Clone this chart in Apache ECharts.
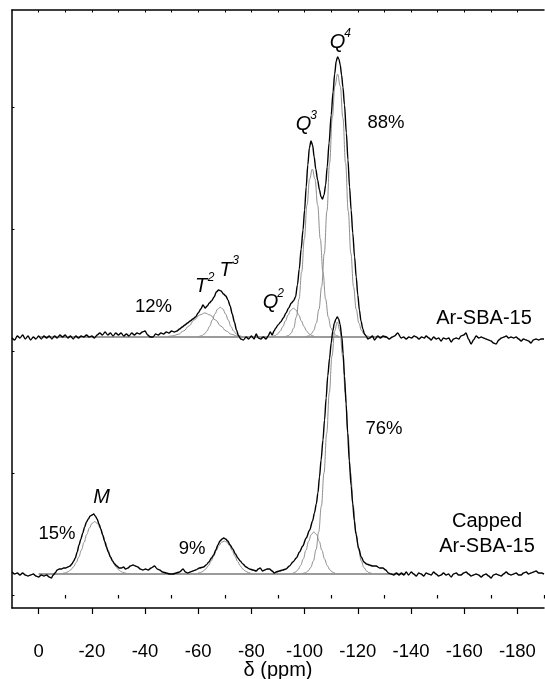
<!DOCTYPE html>
<html>
<head>
<meta charset="utf-8">
<title>29Si MAS NMR</title>
<script src="https://cdn.jsdelivr.net/npm/echarts@6/dist/echarts.min.js"></script>
<style>
  html, body { margin: 0; padding: 0; background: #fff; }
  #chart { width: 545px; height: 679px; }
</style>
</head>
<body>
<div id="chart"></div>
<script>
// Chemical shift axis (ppm)
const majorTicks = [0, -20, -40, -60, -80, -100, -120, -140, -160, -180];
const minorTicks = [-10, -30, -50, -70, -90, -110, -130, -150, -170, -190];
const topTicks = [0, -10, -20, -30, -40, -50, -60, -70, -80, -90, -100, -110, -120, -130, -140, -150, -160, -170, -180];
const intensityTicks = [0, 122, 244, 366, 488];

// Vertical offsets of the two stacked spectra
const topOffset = 258;
const bottomOffset = 21;

// Fitted baseline extents [start, end] in ppm
const topBaseSpan = [0, -131];
const bottomBaseSpan = [0, -138];

// Ar-SBA-15: measured spectrum [ppm, intensity]
const topSpectrum = [
  [10,-1],[9,-3],[8,1],[7,-1],[6,2],[5,-2],[4,1],[3,-3],[2,0],[1,-2],[0,1],[-1,-2],[-2,1],[-3,-1],[-4,1],[-5,-2],
  [-6,1],[-7,-1],[-8,2],[-9,0],[-10,2],[-11,-1],[-12,1],[-13,-2],[-14,1],[-15,-1],[-16,1],[-17,0],[-18,2],[-19,0],
  [-20,1],[-21,-1],[-22,2],[-23,4],[-24,2],[-25,5],[-26,2],[-27,4],[-28,1],[-29,4],[-30,2],[-31,4],[-32,1],[-33,3],
  [-34,1],[-35,4],[-36,2],[-37,4],[-38,3],[-39,5],[-40,6],[-41,2],[-42,0],[-43,0],[-44,3],[-45,2],[-46,4],[-47,3],
  [-48,5],[-49,4],[-50,6],[-51,5],[-52,6],[-53,8],[-54,10],[-55,12],[-56,14],[-57,16],[-58,18],[-59,20],[-60,24],
  [-61,28],[-61.8,32],[-62.6,29],[-63.4,31],[-64.2,34],[-65,36],[-66,40],[-66.8,45],[-67.7,47],[-68.6,46],[-69.5,43],
  [-70.4,41],[-71.2,37],[-72,31],[-72.8,23],[-73.6,15],[-74.4,7],[-75.2,1],[-76,-2],[-77,-3],[-78,0],[-79,-2],[-80,1],
  [-81,-2],[-81.8,3],[-82.6,-1],[-83.5,-2],[-84.5,0],[-85.5,-2],[-86.3,1],[-87.1,5],[-87.8,2],[-88.5,6],
  [-89.2,9],[-90,12],[-91,15],[-92,19],[-93,24],[-94,29],[-95,34],[-95.8,36],[-96.6,40],[-97.3,52],[-98,68],[-98.7,88],
  [-99.4,107],[-100,127],[-100.6,150],[-101.2,172],[-101.8,189],[-102.4,196],[-103,192],[-103.6,180],[-104.2,168],
  [-104.9,157],[-105.6,147],[-106.2,140],[-106.7,138],[-107.3,142],[-107.9,152],[-108.5,170],[-109.2,194],[-110,222],
  [-110.7,245],[-111.3,263],[-111.9,276],[-112.4,280],[-112.9,278],[-113.4,272],[-113.9,262],[-114.4,250],[-115,232],
  [-115.7,204],[-116.3,177],[-116.9,150],[-117.5,127],[-118.1,104],[-118.8,80],[-119.4,60],[-120,42],[-120.6,27],
  [-121.2,16],[-121.9,8],[-122.5,3],[-123.1,1],[-123.8,-2],
  [-124.5,-1],[-125.5,1],[-126.3,-3],[-127.5,1],[-128.5,-1],[-129.5,1],[-130.7,0],[-131.8,-2],[-133,0],[-133.8,1],
  [-135,4],[-136.3,-1],[-137.2,0],[-138.2,-2],[-139.2,0],[-140.2,-1],[-141.2,1],[-142,0],[-143,-2],[-144,0],[-145,-1],
  [-145.7,1],[-146.7,-1],[-147.6,-3],[-148.5,0],[-149.5,-2],[-150.4,-1],[-151.3,-4],[-152.2,-1],[-153.2,-2],[-154.2,-1],
  [-155.1,-5],[-156,-2],[-157,-1],[-158,-2],[-158.8,1],[-159.8,2],[-160.7,4],[-161.6,-2],[-162.6,-7],[-163.5,-3],
  [-164.5,1],[-165.5,-1],[-166.4,0],[-167.3,-1],[-168.2,-2],[-169.2,-3],[-170.1,-4],[-171,-6],[-172,-7],[-173,-3],
  [-174,-1],[-175,0],[-175.8,1],[-176.7,-1],[-177.6,0],[-178.6,-1],[-179.5,0],[-180.5,-2],[-181.4,-4],[-182.3,-2],
  [-183.3,-3],[-184.2,-4],[-185.1,-6],[-186,-3],[-187,-2],[-188,-3],[-188.9,-2],[-190,-2]
];

// Ar-SBA-15: deconvoluted components
const topT2Fit = [[-48.5,0.4],[-50.5,1.1],[-52.5,2.7],[-54.5,6],[-56.5,11],[-58.5,17],[-60.5,22],[-62.5,24],
  [-64.5,22],[-66.5,17],[-68.5,11],[-70.5,6],[-72.5,2.7],[-74.5,1.1],[-76.5,0.4]];
const topT3Fit = [[-60.3,0.5],[-61.3,1.3],[-62.3,3],[-63.3,6],[-64.3,10.7],[-65.3,16.9],[-66.3,23],[-67.3,27.9],
  [-68.3,29.7],[-69.3,27.9],[-70.3,23],[-71.3,16.9],[-72.3,10.7],[-73.3,6],[-74.3,3],[-75.3,1.3],[-76.3,0.5]];
const topQ2Fit = [[-87.8,0.5],[-88.8,1.3],[-89.8,2.9],[-90.8,5.8],[-91.8,10.3],[-92.8,16],[-93.8,22],[-94.8,27],
  [-95.8,28.7],[-96.8,27],[-97.8,22],[-98.8,16],[-99.8,10.3],[-100.8,5.8],[-101.8,2.9],[-102.8,1.3],[-103.8,0.5]];
const topQ3Fit = [[-92.9,0.5],[-93.9,1.4],[-94.9,3.7],[-95.9,9],[-96.9,20],[-97.9,38],[-98.9,65],[-99.9,98],
  [-100.9,132],[-101.9,158],[-102.9,168],[-103.9,158],[-104.9,132],[-105.9,98],[-106.9,65],[-107.9,38],[-108.9,20],
  [-109.9,9],[-110.9,3.7],[-111.9,1.4],[-112.9,0.5]];
const topQ4Fit = [[-100.4,0.3],[-101.4,1],[-102.4,2.7],[-103.4,6.4],[-104.4,13.9],[-105.4,27.7],[-106.4,50.3],
  [-107.4,83.5],[-108.4,126],[-109.4,174],[-110.4,219],[-111.4,251],[-112.4,263],[-113.4,251],[-114.4,219],
  [-115.4,174],[-116.4,126],[-117.4,83.5],[-118.4,50.3],[-119.4,27.7],[-120.4,13.9],[-121.4,6.4],[-122.4,2.7],
  [-123.4,1],[-124.4,0.3]];

// Capped Ar-SBA-15: measured spectrum [ppm, intensity]
const bottomSpectrum = [
  [10,2],[9,0],[8,1],[7,-1],[6,1],[5,-1],[4,-2],[3,-1],[2,0],[1,-2],[0,-3],[-1,-1],[-2,-2],[-3,-1],[-4,-3],[-4.8,-4],
  [-5.5,-1],[-6.2,1],[-7,4],[-7.8,5],[-8.6,5],[-9.4,6],[-10.2,6],[-11,7],[-11.8,8],[-12.5,10],[-13.2,13],[-13.8,16],
  [-14.5,22],[-15.2,29],[-15.9,35],[-16.6,41],[-17.3,47],[-18,52],[-18.7,55],[-19.4,58],[-20.1,59],[-20.7,60],
  [-21.3,58],[-22,55],[-22.7,50],[-23.4,45],[-24.1,39],[-24.8,33],[-25.5,27],[-26.2,22],[-27,17],[-27.8,13],[-28.6,10],
  [-29.4,8],[-30.3,6],[-31.2,6],[-31.9,7],[-32.7,5],[-33.6,6],[-34.5,8],[-35.5,9],[-36.4,8],[-37.3,7],[-38.2,5],
  [-39.2,4],[-40.2,5],[-41.2,4],[-42.3,6],[-43.6,8],[-44.6,5],[-45.5,4],[-46.6,2],[-48,1],[-49.3,0],[-50.5,0],
  [-51.7,1],[-53,2],[-54.3,5],[-55.2,2],[-56.1,1],[-57,2],[-58,3],[-59,4],[-60.5,6],[-62,7],[-63,9],[-64,12],[-65,16],
  [-65.8,19],[-66.6,24],[-67.4,29],[-68.2,33],[-69,35],[-69.6,36],[-70.3,35],[-71.1,33],[-72,29],[-73,25],[-74,20],
  [-74.9,16],[-75.8,13],[-76.8,10],[-78,7],[-79.3,5],[-80.6,4],[-81.8,3],[-82.6,5],[-83.3,6],[-84.2,3],[-85,4],
  [-85.9,5],[-86.8,5],[-87.8,3],[-88.6,1],[-89.3,2],[-90.5,3],[-91.8,4],[-93,5],[-94.3,8],[-95.6,12],[-96.9,16],
  [-98.1,22],[-99.3,28],[-100.6,36],[-101.9,44],[-103,53],[-103.7,61],[-104.4,70],[-105,81],[-105.6,97],[-106.2,114],
  [-106.9,134],[-107.5,154],[-108.1,176],[-108.7,198],[-109.4,216],[-110,231],[-110.6,243],[-111.2,251],[-111.8,255],
  [-112.3,257],[-112.8,255],[-113.3,250],[-114,237],[-114.5,220],[-115,198],[-115.6,170],[-116.2,141],[-116.8,113],
  [-117.5,88],[-118.1,70],[-118.7,53],[-119.3,40],[-120.3,26],[-121.3,17],[-122.3,12],[-123.3,10],[-124.4,9],
  [-125.5,8],[-126.9,8],[-128.2,6],[-129.4,6],[-130.5,4],[-131.5,1],[-132.5,0],[-133.5,-1],
  [-134.5,1],[-135.5,-1],[-136.4,1],[-137.3,-1],[-138.2,2],[-139.1,-1],[-140.1,2],[-141,0],[-142,-2],[-142.9,1],
  [-143.8,0],[-144.8,-2],[-145.7,1],[-146.6,0],[-147.6,-1],[-148.5,2],[-149.4,0],[-150.4,-2],[-151.3,-1],[-152.2,1],
  [-153.2,-1],[-154.1,0],[-155.1,-3],[-156,0],[-157,1],[-157.9,-1],[-158.8,-1],[-159.8,1],[-160.7,2],[-161.6,0],
  [-162.6,-2],[-163.5,-1],[-164.5,0],[-165.4,-1],[-166.4,-3],[-167.3,-1],[-168.2,0],[-169.2,-2],[-170.1,-4],[-171,-1],
  [-172,0],[-172.9,-1],[-173.9,-2],[-174.8,0],[-175.8,2],[-176.7,0],[-177.6,-1],[-178.6,0],[-179.5,1],[-180.5,-1],
  [-181.4,-1],[-182.3,1],[-183.3,2],[-184.2,0],[-185.1,1],[-186.1,2],[-187,3],[-188,1],[-188.9,1],[-190,0]
];

// Capped Ar-SBA-15: deconvoluted components
const botMFit = [[-9.1,0.6],[-10.1,1.2],[-11.1,2.3],[-12.1,4.2],[-13.1,7.1],[-14.1,11.3],[-15.1,17],[-16.1,24],
  [-17.1,31.7],[-18.1,39.5],[-19.1,46.1],[-20.1,50.7],[-21.1,52.3],[-22.1,50.7],[-23.1,46.1],[-24.1,39.5],[-25.1,31.7],
  [-26.1,24],[-27.1,17],[-28.1,11.3],[-29.1,7.1],[-30.1,4.2],[-31.1,2.3],[-32.1,1.2],[-33.1,0.6]];
const botTFit = [[-59.8,0.7],[-60.8,1.4],[-61.8,2.8],[-62.8,5],[-63.8,8.2],[-64.8,12.6],[-65.8,17.8],[-66.8,23.3],
  [-67.8,28.3],[-68.8,31.8],[-69.8,33],[-70.8,31.8],[-71.8,28.3],[-72.8,23.3],[-73.8,17.8],[-74.8,12.6],[-75.8,8.2],
  [-76.8,5],[-77.8,2.8],[-78.8,1.4],[-79.8,0.7]];
const botQ3Fit = [[-95.5,0.7],[-96.5,1.8],[-97.5,4.2],[-98.5,8.5],[-99.5,15.1],[-100.5,23.7],[-101.5,32.6],
  [-102.5,39.4],[-103.5,42],[-104.5,39.4],[-105.5,32.6],[-106.5,23.7],[-107.5,15.1],[-108.5,8.5],[-109.5,4.2],
  [-110.5,1.8],[-111.5,0.7]];
const botQ4Fit = [[-99.3,0.5],[-100.3,1.3],[-101.3,3],[-102.3,6.5],[-103.3,13.1],[-104.3,24.4],[-105.3,42.2],
  [-106.3,67.7],[-107.3,101.3],[-108.3,140.6],[-109.3,181.5],[-110.3,218],[-111.3,243],[-112.3,252],[-113.3,243],
  [-114.3,218],[-115.3,181.5],[-116.3,140.6],[-117.3,101.3],[-118.3,67.7],[-119.3,42.2],[-120.3,24.4],[-121.3,13.1],
  [-122.3,6.5],[-123.3,3],[-124.3,1.3],[-125.3,0.5]];

const FONT = '"Liberation Sans", Arial, Helvetica, sans-serif';

function lift(points, offset) {
  return points.map(p => [p[0], p[1] + offset]);
}

function spectrumSeries(points, offset) {
  return {
    type: 'line', data: lift(points, offset), showSymbol: false, symbol: 'none',
    smooth: 0.3, smoothMonotone: 'x', silent: true, z: 5,
    lineStyle: { color: '#000', width: 1.4 }
  };
}

function fitSeries(points, offset) {
  return {
    type: 'line', data: lift(points, offset), showSymbol: false, symbol: 'none',
    smooth: 0.4, smoothMonotone: 'x', silent: true, z: 3,
    lineStyle: { color: '#8e8e8e', width: 1 }
  };
}

function baselineSeries(span, offset) {
  return {
    type: 'line', data: span.map(x => [x, offset]), showSymbol: false, symbol: 'none',
    silent: true, z: 2, lineStyle: { color: '#7a7a7a', width: 1.4 }
  };
}

// Peak labels: italic letter with a superscript index
function peakLabel(letter, index, x, y) {
  const items = [{
    type: 'text', x: x, y: y, silent: true,
    style: { text: letter, font: 'italic 20px ' + FONT, fill: '#000', align: 'center', verticalAlign: 'middle' }
  }];
  if (index) {
    items.push({
      type: 'text', x: x + 10, y: y - 9, silent: true,
      style: { text: index, font: 'italic 12px ' + FONT, fill: '#000', align: 'center', verticalAlign: 'middle' }
    });
  }
  return items;
}

function plainLabel(text, x, y, size) {
  return {
    type: 'text', x: x, y: y, silent: true,
    style: { text: text, font: size + 'px ' + FONT, fill: '#000', align: 'center', verticalAlign: 'middle' }
  };
}

const chart = echarts.init(document.getElementById('chart'), null, { renderer: 'canvas' });

const axisLineStyle = { color: '#000', width: 1.5 };

chart.setOption({
  animation: false,
  backgroundColor: '#fff',
  grid: { left: 12, right: 1, top: 10, bottom: 71, containLabel: false, outerBoundsMode: 'none' },
  xAxis: [
    {
      type: 'value', min: -190, max: 10, inverse: true, position: 'bottom', offset: 0,
      axisLine: { show: true, onZero: false, lineStyle: axisLineStyle },
      axisTick: { show: true, inside: false, length: 6, customValues: majorTicks, lineStyle: { color: '#000', width: 1.2 } },
      axisLabel: { show: true, customValues: majorTicks, margin: 34, color: '#000', fontSize: 18.5, fontFamily: FONT },
      splitLine: { show: false },
      name: 'δ (ppm)', nameLocation: 'middle', nameGap: 62, nameMoveOverlap: false,
      nameTextStyle: { color: '#000', fontSize: 20, fontFamily: FONT, verticalAlign: 'middle' }
    },
    {
      type: 'value', min: -190, max: 10, inverse: true, position: 'bottom', offset: 0,
      axisLine: { show: false },
      axisTick: { show: true, inside: false, length: 3.5, customValues: minorTicks, lineStyle: { color: '#000', width: 1.2 } },
      axisLabel: { show: false },
      splitLine: { show: false }
    },
    {
      type: 'value', min: -190, max: 10, inverse: true, position: 'top', offset: 0,
      axisLine: { show: true, onZero: false, lineStyle: axisLineStyle },
      axisTick: { show: true, inside: true, length: 2.5, customValues: topTicks, lineStyle: { color: '#000', width: 1 } },
      axisLabel: { show: false },
      splitLine: { show: false }
    }
  ],
  yAxis: [
    {
      type: 'value', min: -13, max: 585, position: 'left',
      axisLine: { show: true, onZero: false, lineStyle: axisLineStyle },
      axisTick: { show: true, inside: true, length: 2.5, customValues: intensityTicks, lineStyle: { color: '#000', width: 1 } },
      axisLabel: { show: false },
      splitLine: { show: false }
    }
  ],
  series: [
    baselineSeries(topBaseSpan, topOffset),
    baselineSeries(bottomBaseSpan, bottomOffset),
    fitSeries(topT2Fit, topOffset),
    fitSeries(topT3Fit, topOffset),
    fitSeries(topQ2Fit, topOffset),
    fitSeries(topQ3Fit, topOffset),
    fitSeries(topQ4Fit, topOffset),
    fitSeries(botMFit, bottomOffset),
    fitSeries(botTFit, bottomOffset),
    fitSeries(botQ3Fit, bottomOffset),
    fitSeries(botQ4Fit, bottomOffset),
    spectrumSeries(topSpectrum, topOffset),
    spectrumSeries(bottomSpectrum, bottomOffset)
  ],
  graphic: [].concat(
    peakLabel('Q', '4', 337.5, 42.5),
    peakLabel('Q', '3', 303.5, 124.5),
    peakLabel('Q', '2', 270.5, 302.5),
    peakLabel('T', '2', 201, 286.5),
    peakLabel('T', '3', 225.5, 270),
    peakLabel('M', null, 101.5, 497),
    [
      plainLabel('88%', 386, 122.5, 18.5),
      plainLabel('12%', 153.5, 307, 18.5),
      plainLabel('76%', 384, 429, 18.5),
      plainLabel('15%', 57, 534, 18.5),
      plainLabel('9%', 192, 548.5, 18.5),
      plainLabel('Ar-SBA-15', 484, 318.5, 20),
      plainLabel('Capped', 487, 521.5, 20),
      plainLabel('Ar-SBA-15', 487, 546.5, 20)
    ]
  )
});
</script>
</body>
</html>
